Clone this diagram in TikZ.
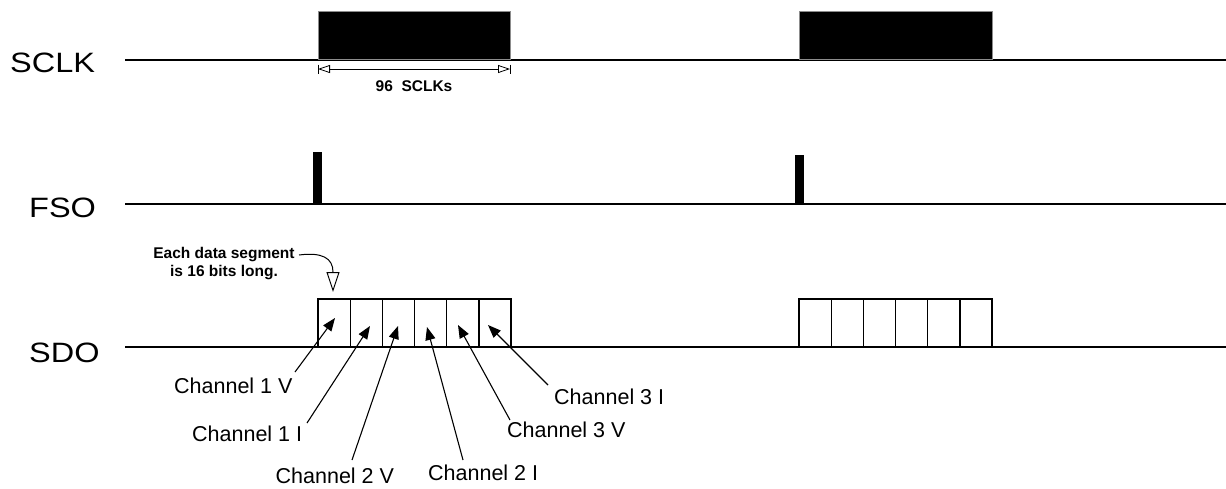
\documentclass[tikz,border=0pt]{standalone}
\usepackage{fontspec}
\setmainfont{Liberation Sans}
\usetikzlibrary{arrows.meta}
\begin{document}
\begin{tikzpicture}[x=1pt,y=-1pt,
  sig/.style={line width=1.6pt},
  blk/.style={fill=black,draw=black!45,line width=1pt},
  seg/.style={draw=black,line width=1.3pt},
  signame/.style={anchor=base west,inner sep=0pt,font=\fontsize{28}{28}\selectfont},
  chlab/.style={anchor=base west,inner sep=0pt,font=\fontsize{21.5}{22}\selectfont},
  note/.style={inner sep=0pt,font=\fontsize{15.5}{18}\selectfont\bfseries},
  pointer/.style={line width=1.1pt,-{Triangle[length=13pt,width=10pt]}},
  dim/.style={line width=0.8pt,{Triangle[open,length=12pt,width=8pt]}-{Triangle[open,length=12pt,width=8pt]}}
]
\useasboundingbox (0,0) rectangle (1226,488);
\fill[white] (0,0) rectangle (1226,488);

% signal names
\node[signame] (nsclk) at (10,72) {\scalebox{1.16}[1]{SCLK}};
\node[signame] (nfso) at (29,217) {\scalebox{1.16}[1]{FSO}};
\node[signame] (nsdo) at (29,362) {\scalebox{1.16}[1]{SDO}};

% SCLK
\coordinate (sclkA) at (125,60);
\coordinate (sclkB) at (1226,60);
\draw[sig] (sclkA) -- (sclkB);
\draw[blk] (318,11.5) rectangle (510,59);
\draw[blk] (799,11.5) rectangle (992,59);
\coordinate (d1) at (318,69);
\coordinate (d2) at (510,69);
\draw[line width=0.8pt] (318,64.5) -- (318,73.5) (510,64.5) -- (510,73.5);
\draw[dim] (d1) -- (d2);
\node[note,anchor=base] (n96) at (414,91) {96\ \ SCLKs};

% FSO
\coordinate (fsoA) at (125,204);
\coordinate (fsoB) at (1226,204);
\draw[sig] (fsoA) -- (fsoB);
\fill[black] (313,152) rectangle (322,204);
\fill[black] (795,155) rectangle (804,204);

% SDO
\coordinate (sdoA) at (125,347);
\coordinate (sdoB) at (1226,347);
\draw[sig] (sdoA) -- (sdoB);
\foreach \i in {0,...,5}{
  \draw[seg] ({318+\i*32.17},299) rectangle ({318+(\i+1)*32.17},347);
  \draw[seg] ({799+\i*32.17},299) rectangle ({799+(\i+1)*32.17},347);
}

% note
\node[note,align=center,anchor=north] (segnote) at (224,247.5) {Each data segment\\is 16 bits long.};
\coordinate (cs) at (299,255);
\coordinate (cm) at (333,272);
\coordinate (ce) at (333,292);
\draw[line width=1pt,-{Triangle[open,length=20pt,width=13pt]}] (cs) .. controls (322,252) and (333,258) .. (cm) -- (ce);

% channel labels
\node[chlab] (c1v) at (174,393) {Channel 1 V};
\node[chlab] (c1i) at (192,441.5) {Channel 1 I};
\node[chlab] (c2v) at (275.5,483.5) {Channel 2 V};
\node[chlab] (c2i) at (428,480.5) {Channel 2 I};
\node[chlab] (c3v) at (507,437) {Channel 3 V};
\node[chlab] (c3i) at (554,404) {Channel 3 I};

\coordinate (s1) at (295,372);  \coordinate (t1) at (335,318);
\coordinate (s2) at (307,423);  \coordinate (t2) at (370,326);
\coordinate (s3) at (352,460);  \coordinate (t3) at (398,326);
\coordinate (s4) at (463,460);  \coordinate (t4) at (427,327);
\coordinate (s5) at (510,420);  \coordinate (t5) at (458,325);
\coordinate (s6) at (548,385);  \coordinate (t6) at (488,325);
\draw[pointer] (s1) -- (t1);
\draw[pointer] (s2) -- (t2);
\draw[pointer] (s3) -- (t3);
\draw[pointer] (s4) -- (t4);
\draw[pointer] (s5) -- (t5);
\draw[pointer] (s6) -- (t6);
\end{tikzpicture}
\end{document}
